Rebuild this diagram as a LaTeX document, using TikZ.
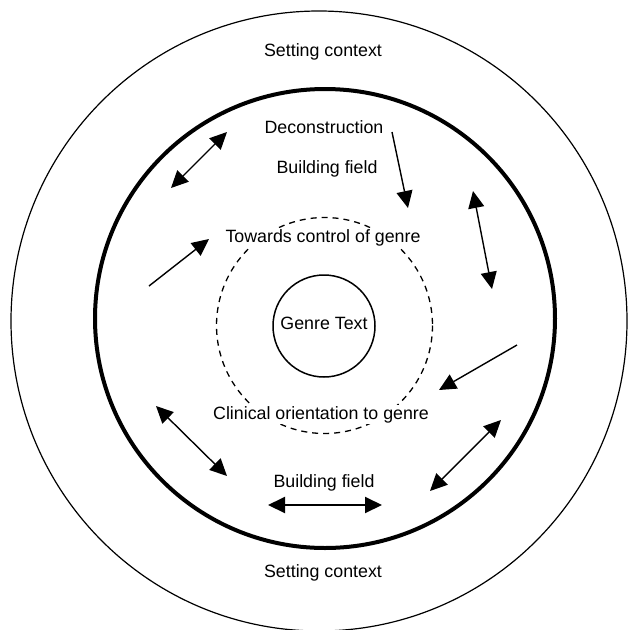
\documentclass[tikz,border=0pt]{standalone}
\usepackage{fontspec}
\setmainfont{Liberation Sans}
\usetikzlibrary{arrows.meta}
\begin{document}
\begin{tikzpicture}[x=1pt,y=-1pt,
  lbl/.style={anchor=base,inner sep=1pt,fill=white,font=\fontsize{17.8}{20}\selectfont},
  arr/.style={line width=1.4pt,-{Triangle[length=17pt,width=16pt]}},
  darr/.style={line width=1.4pt,{Triangle[length=17pt,width=16pt]}-{Triangle[length=17pt,width=16pt]}}]
\useasboundingbox (0,0) rectangle (628,630);
% circles
\draw[line width=1.2pt] (319,321) ellipse [x radius=308, y radius=310];
\draw[line width=4pt] (325,318.5) ellipse [x radius=230, y radius=229.5];
\draw[line width=1.3pt,dash pattern=on 6pt off 5pt] (324.5,325.5) circle [radius=108];
\draw[line width=1.5pt] (324,326) circle [radius=51];
% labels
\node[lbl] (sc1) at (323,56) {Setting context};
\node[lbl] (dec) at (324,133) {Deconstruction};
\node[lbl] (bf1) at (327,173) {Building field};
\node[lbl] (tcg) at (323,242) {Towards control of genre};
\node[lbl] (gt) at (324,329) {Genre Text};
\node[lbl] (cog) at (321,419) {Clinical orientation to genre};
\node[lbl] (bf2) at (324,487) {Building field};
\node[lbl] (sc2) at (323,577) {Setting context};
% arrow endpoints
\coordinate (a1s) at (171,188); \coordinate (a1e) at (227,132);
\coordinate (a2s) at (392,132); \coordinate (a2e) at (408,208);
\coordinate (a3s) at (473,191); \coordinate (a3e) at (492,289);
\coordinate (a4s) at (149,286); \coordinate (a4e) at (209,239);
\coordinate (a5s) at (517,345); \coordinate (a5e) at (439,390);
\coordinate (a6s) at (156,406); \coordinate (a6e) at (227,476);
\coordinate (a7s) at (501,420); \coordinate (a7e) at (430,491);
\coordinate (a8s) at (268,505); \coordinate (a8e) at (382,505);
% arrows
\draw[darr] (a1s) -- (a1e);
\draw[arr] (a2s) -- (a2e);
\draw[darr] (a3s) -- (a3e);
\draw[arr] (a4s) -- (a4e);
\draw[arr] (a5s) -- (a5e);
\draw[darr] (a6s) -- (a6e);
\draw[darr] (a7s) -- (a7e);
\draw[darr,line width=2pt] (a8s) -- (a8e);
\end{tikzpicture}
\end{document}
